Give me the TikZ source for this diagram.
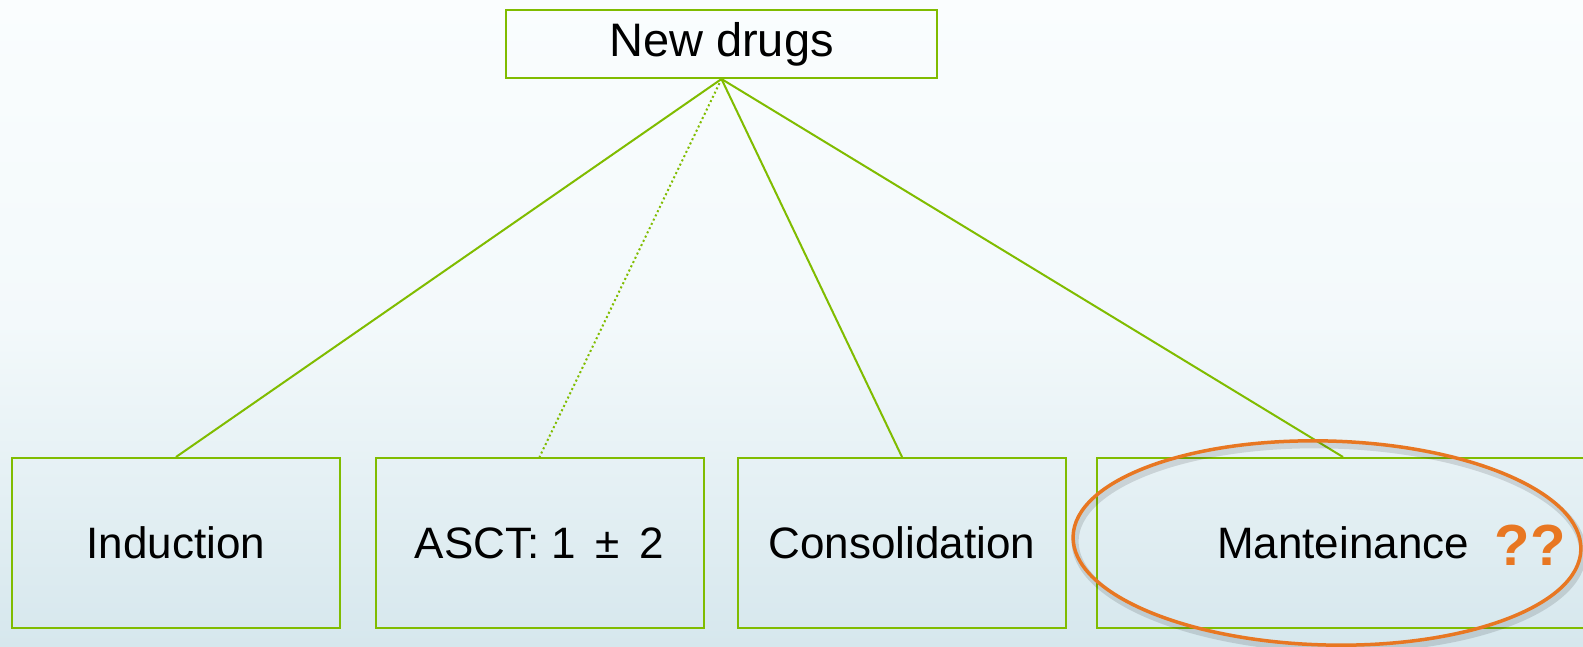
\documentclass[tikz,border=0pt]{standalone}
\usepackage{fontspec}
\setmainfont{Liberation Sans}
\usetikzlibrary{shapes.geometric}
\definecolor{lgreen}{RGB}{128,188,0}
\definecolor{dorange}{RGB}{232,119,34}
\definecolor{bgtop}{RGB}{250,253,254}
\definecolor{bgmid}{RGB}{243,249,251}
\definecolor{bgbot}{RGB}{214,231,237}
\tikzset{
  boxnode/.style={draw=lgreen,line width=2pt,inner sep=0pt,minimum height=170pt,minimum width=328pt,
    font=\fontsize{44}{50}\selectfont},
  topnode/.style={draw=lgreen,line width=2pt,inner sep=0pt,minimum height=68pt,minimum width=431pt,
    font=\fontsize{47}{54}\selectfont},
  link/.style={draw=lgreen,line width=2pt},
  dotlink/.style={draw=lgreen,line width=2pt,dash pattern=on 2pt off 2.7pt},
  oval/.style={ellipse,draw=dorange,line width=3.5pt,minimum width=508pt,minimum height=204pt,inner sep=0pt},
  ovalshadow/.style={ellipse,draw=black,draw opacity=0.12,line width=7pt,minimum width=508pt,minimum height=204pt,inner sep=0pt}
}
\begin{document}
\begin{tikzpicture}[x=1pt,y=-1pt]
\useasboundingbox (0,0) rectangle (1583,647);
\clip (0,0) rectangle (1583,647);
\shade[top color=bgtop,bottom color=bgbot,middle color=bgmid] (0,0) rectangle (1583,647);
\node[topnode] (top) at (721.5,44) {New drugs};
\node[boxnode] (ind) at (176,543) {Induction};
\node[boxnode] (asct) at (539.5,543) {ASCT: 1 \,±\, 2};
\node[boxnode] (cons) at (902,543) {Consolidation};
\node[boxnode,minimum width=492pt] (mant) at (1343,543) {};
\node[font=\fontsize{44}{50}\selectfont,inner sep=0pt] (manttext) at (1343,543) {Manteinance};
\node[font=\fontsize{58}{66}\selectfont\bfseries,text=dorange,inner sep=0pt,anchor=base] (qq) at (1530,565) {??};
\draw[link] (top.south) -- (ind.north);
\draw[dotlink] (top.south) -- (asct.north);
\draw[link] (top.south) -- (cons.north);
\draw[link] (top.south) -- (mant.north);
\node[ovalshadow,rotate=-1.5] (ringshadow) at (1329,547) {};
\node[oval,rotate=-1.5] (ring) at (1327,543) {};
\end{tikzpicture}
\end{document}
